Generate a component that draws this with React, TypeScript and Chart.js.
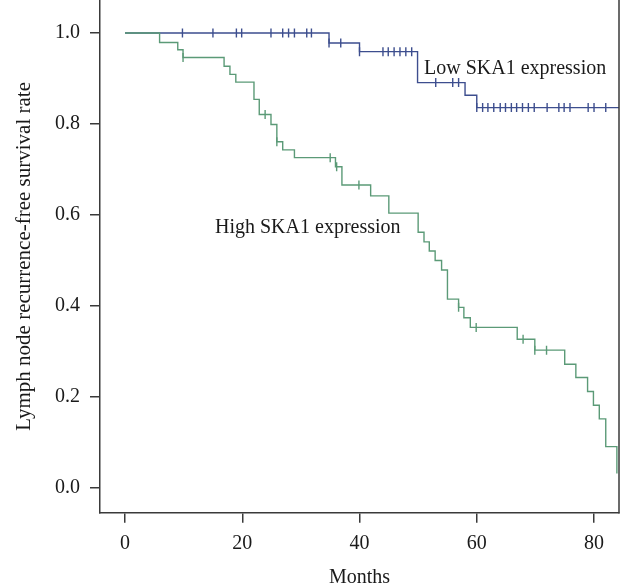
import React, { useEffect, useRef } from "react";
import { Chart, registerables } from "chart.js";

Chart.register(...registerables);

// Kaplan–Meier: High SKA1 expression (event times, survival after event)
const highTimes = [0, 5.9, 9.0, 9.9, 16.9, 17.9, 18.9, 22.0, 22.9, 24.9, 25.9, 26.9, 28.9, 35.9, 37.0, 41.9, 45.0, 50.0, 51.0, 51.9, 52.9, 54.0, 55.0, 56.9, 57.8, 58.9, 66.9, 69.9, 75.0, 76.9, 78.9, 79.9, 80.9, 82.0, 83.9];
const highSurv = [1, 0.979, 0.963, 0.946, 0.927, 0.909, 0.892, 0.854, 0.821, 0.799, 0.761, 0.743, 0.726, 0.706, 0.666, 0.642, 0.604, 0.562, 0.541, 0.521, 0.5, 0.479, 0.415, 0.397, 0.374, 0.353, 0.327, 0.303, 0.272, 0.243, 0.212, 0.182, 0.152, 0.091, 0.032];
const highCensored = [9.9, 23.9, 25.9, 35.0, 36.1, 39.9, 56.9, 59.9, 67.9, 69.9, 71.9];

// Kaplan–Meier: Low SKA1 expression
const lowTimes = [0, 34.8, 40.0, 49.9, 58.0, 60.0, 84.3];
const lowSurv = [1, 0.978, 0.959, 0.891, 0.863, 0.836, 0.836];
const lowCensored = [9.8, 15.0, 19.0, 19.9, 24.9, 26.9, 27.9, 28.9, 31.0, 31.8, 34.8, 36.8, 40.0, 44.0, 44.9, 45.9, 46.9, 47.9, 48.9, 53.0, 55.9, 56.9, 60.0, 61.0, 61.9, 62.9, 64.0, 64.9, 65.9, 66.8, 67.8, 68.8, 69.8, 72.0, 74.0, 74.9, 75.9, 79.0, 80.0, 82.0];

const xTicks = [0, 20, 40, 60, 80];
const yTicks = [0, 0.2, 0.4, 0.6, 0.8, 1.0];

const GREEN = "#5b9a77";
const BLUE = "#3d4e8e";
const AXIS = "#3a3a3a";
const TEXT = "#1a1a1a";
const FONT = '"Liberation Serif", "Times New Roman", serif';

function survAt(times: number[], surv: number[], t: number) {
  let s = surv[0];
  for (let i = 0; i < times.length; i++) if (times[i] <= t + 1e-9) s = surv[i];
  return s;
}

export default function App() {
  const ref = useRef<HTMLCanvasElement | null>(null);
  useEffect(() => {
    if (!ref.current) return;
    const labelPlugin = {
      id: "labels",
      afterDatasetsDraw(chart: any) {
        const { ctx, scales, chartArea } = chart;
        const xs = scales.x, ys = scales.y;
        ctx.save();
        ctx.font = `20px ${FONT}`;
        ctx.fillStyle = TEXT;
        ctx.textBaseline = "alphabetic";
        ctx.textAlign = "left";
        ctx.fillText("Low SKA1 expression", xs.getPixelForValue(51.0), ys.getPixelForValue(0.91));
        ctx.fillText("High SKA1 expression", xs.getPixelForValue(15.35), ys.getPixelForValue(0.56));
        // right frame line
        ctx.strokeStyle = AXIS;
        ctx.lineWidth = 1.5;
        ctx.beginPath();
        ctx.moveTo(chartArea.right, chartArea.top);
        ctx.lineTo(chartArea.right, chartArea.bottom + 0.75);
        ctx.stroke();
        ctx.restore();
      },
    };
    const chart = new Chart(ref.current, {
      type: "line",
      data: {
        datasets: [
          {
            label: "High censored",
            data: highCensored.map((t) => ({ x: t, y: survAt(highTimes, highSurv, t) })),
            showLine: false,
            pointStyle: "line",
            rotation: 90,
            radius: 4.5,
            borderWidth: 1.4,
            borderColor: GREEN,
            order: 0,
          },
          {
            label: "Low censored",
            data: lowCensored.map((t) => ({ x: t, y: survAt(lowTimes, lowSurv, t) })),
            showLine: false,
            pointStyle: "line",
            rotation: 90,
            radius: 4.5,
            borderWidth: 1.4,
            borderColor: BLUE,
            order: 1,
          },
          {
            label: "High SKA1 expression",
            data: highTimes.map((t, i) => ({ x: t, y: highSurv[i] })),
            stepped: "before",
            borderColor: GREEN,
            borderWidth: 1.4,
            pointRadius: 0,
            fill: false,
            order: 2,
          },
          {
            label: "Low SKA1 expression",
            data: lowTimes.map((t, i) => ({ x: t, y: lowSurv[i] })),
            stepped: "before",
            borderColor: BLUE,
            borderWidth: 1.4,
            pointRadius: 0,
            fill: false,
            order: 3,
          },
        ],
      },
      options: {
        responsive: false,
        animation: false,
        layout: { autoPadding: false, padding: { left: 0, right: 1, top: 0, bottom: 0 } },
        plugins: { legend: { display: false }, tooltip: { enabled: false } },
        scales: {
          x: {
            type: "linear",
            min: -4.264,
            max: 84.26,
            afterBuildTicks: (s: any) => {
              s.ticks = xTicks.map((v) => ({ value: v }));
            },
            afterFit: (s: any) => {
              s.height = 75.3;
              s.paddingLeft = 0;
              s.paddingRight = 0;
            },
            grid: { drawOnChartArea: false, drawTicks: true, tickLength: 10, color: AXIS, lineWidth: 1.5 },
            border: { display: true, color: AXIS, width: 1.5 },
            ticks: { color: TEXT, font: { family: FONT, size: 20 }, padding: 9, maxRotation: 0, callback: (v: any) => String(v) },
            title: { display: true, text: "Months", color: TEXT, font: { family: FONT, size: 20 }, padding: { top: 0, bottom: -2 } },
          },
          y: {
            type: "linear",
            min: -0.0543,
            max: 1.0725,
            afterBuildTicks: (s: any) => {
              s.ticks = yTicks.map((v) => ({ value: v }));
            },
            afterFit: (s: any) => {
              s.width = 100;
              s.paddingTop = 0;
              s.paddingBottom = 0;
            },
            grid: { drawOnChartArea: false, drawTicks: true, tickLength: 10, color: AXIS, lineWidth: 1.5 },
            border: { display: true, color: AXIS, width: 1.5 },
            ticks: { color: TEXT, font: { family: FONT, size: 20 }, padding: 10, callback: (v: any) => Number(v).toFixed(1) },
            title: { display: true, text: "Lymph node recurrence-free survival rate", color: TEXT, font: { family: FONT, size: 21 }, padding: { top: 12, bottom: 0 } },
          },
        },
      },
      plugins: [labelPlugin],
    } as any);
    return () => chart.destroy();
  }, []);
  return (
    <div style={{ position: "absolute", left: 0, top: 0, width: 620, height: 588, background: "#fff" }}>
      <canvas ref={ref} width={620} height={588} />
    </div>
  );
}
